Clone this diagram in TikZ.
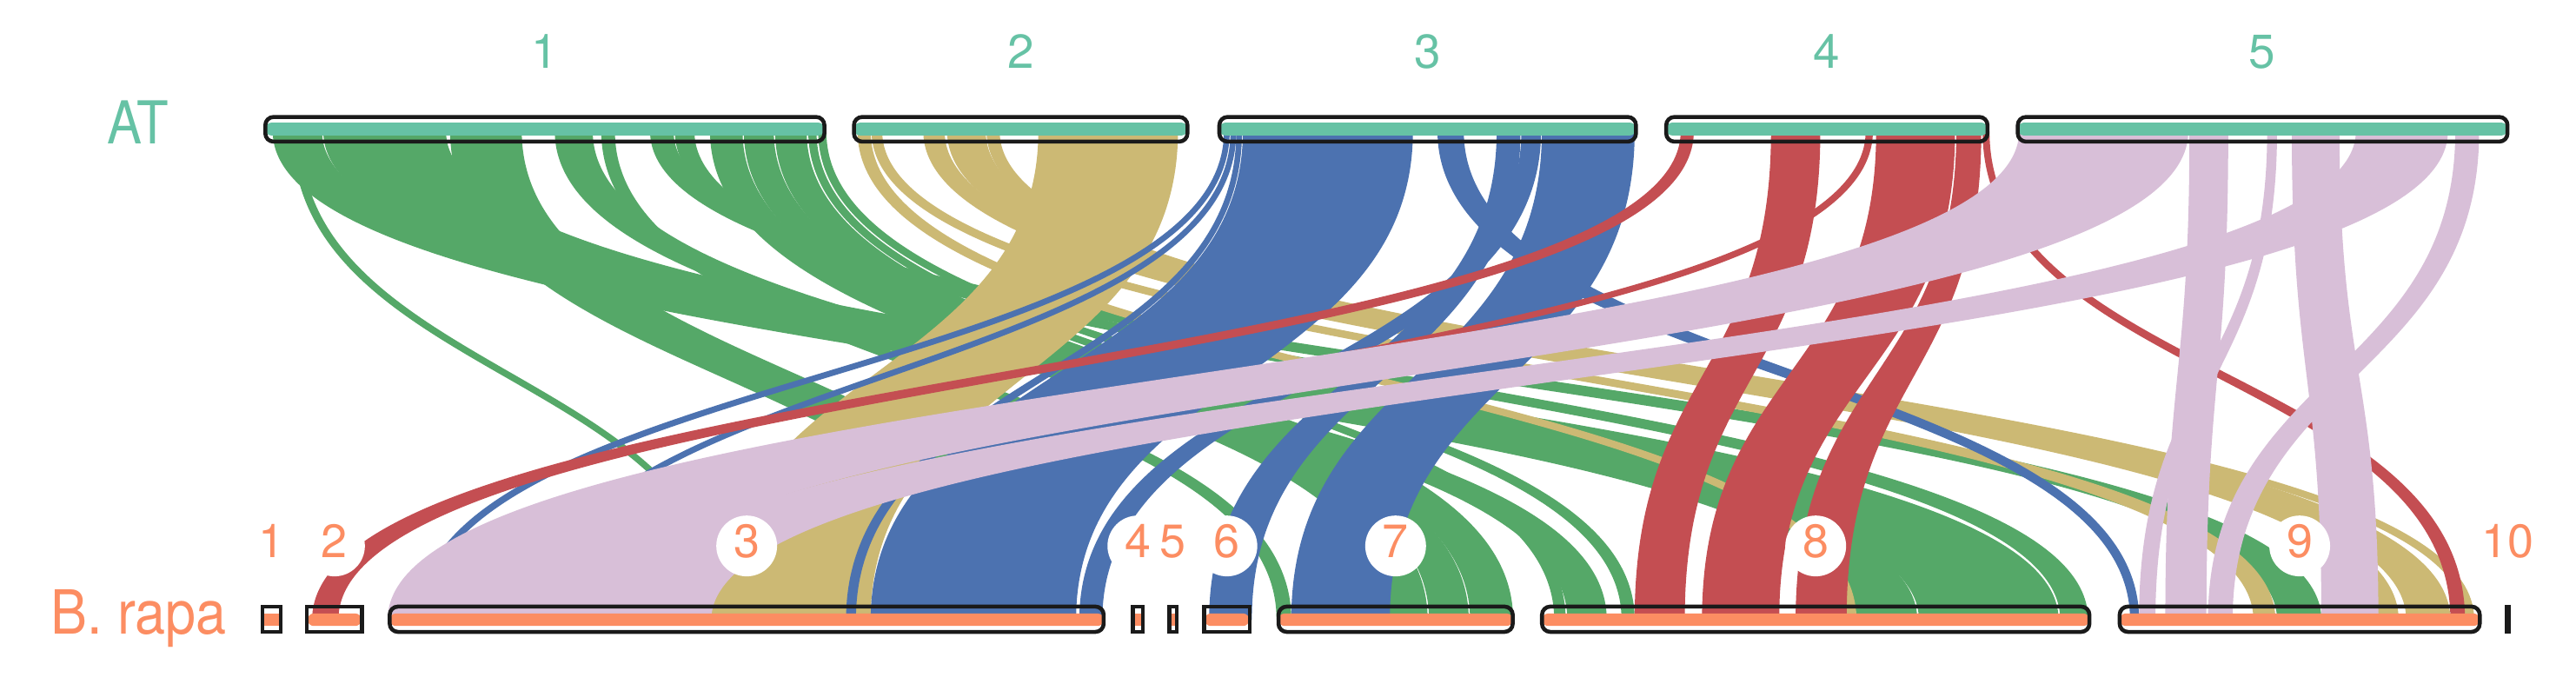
\documentclass[tikz,border=0pt]{standalone}
\usepackage{graphicx}
\usepackage{fontspec}
\setmainfont{TeX Gyre Heros}
\definecolor{cg}{HTML}{55A868}
\definecolor{ck}{HTML}{CCB974}
\definecolor{cb}{HTML}{4C72B0}
\definecolor{cr}{HTML}{C44E52}
\definecolor{cl}{HTML}{D8BFD8}
\definecolor{topc}{HTML}{66C2A5}
\definecolor{botc}{HTML}{FC8D62}
\definecolor{outl}{HTML}{1A1A1A}
% ribbon: colour, top left, top right, bottom left, bottom right (visible extents)
\newcommand\rib[5]{\filldraw[#1, line width=3.5pt, line join=round]
  (#2+1.75,80) .. controls (#2+1.75,228.5) and (#4+1.75,228.5) .. (#4+1.75,377)
  -- (#5-1.75,377) .. controls (#5-1.75,228.5) and (#3-1.75,228.5) .. (#3-1.75,80) -- cycle;}
\newcommand\topchr[2]{%
  \fill[topc, rounded corners=3.9] (#1+1.2,74.6) rectangle (#2-1.2,82.5);
  \draw[outl, line width=2.4, rounded corners=5] (#1+1.2,71.2) rectangle (#2-1.2,86.2);}
\newcommand\botchr[2]{%
  \fill[botc, rounded corners=3.8] (#1+1.2,373.4) rectangle (#2-1.2,381);
  \draw[outl, line width=2.4, rounded corners=5] (#1+1.2,369.2) rectangle (#2-1.2,384.6);}
\newcommand\botsq[2]{%
  \fill[botc] (#1+2.2,373.4) rectangle (#2-2.2,381);
  \draw[outl, line width=2.4] (#1+1.2,369.2) rectangle (#2-1.2,384.6);}
\newcommand\botpill[2]{%
  \fill[botc, rounded corners=3.8] (#1+1.6,373.4) rectangle (#2-1.6,381);
  \draw[outl, line width=2.4] (#1+1.2,369.2) rectangle (#2-1.2,384.6);}
\tikzset{
  toplab/.style={anchor=base, inner sep=0, text=topc, font=\fontsize{29}{29}\selectfont},
  botlab/.style={anchor=base, inner sep=0, text=botc, font=\fontsize{28.5}{28.5}\selectfont},
  labdisc/.style={circle, fill=white, minimum size=37pt, inner sep=0},
}
\begin{document}
\begin{tikzpicture}[x=1pt,y=-1pt]
\useasboundingbox (0,0) rectangle (1568,416);
\fill[white] (0,0) rectangle (1568,416);
% ---- green (AT 1)
\rib{cg}{178}{183}{437}{441}
\rib{cg}{166}{196}{1130}{1167}
\rib{cg}{196.8}{271.5}{1168}{1253}
\rib{cg}{274}{317.6}{605}{650}
\rib{cg}{337.7}{360.8}{954}{978}
\rib{cg}{366}{374.3}{777}{786}
\rib{cg}{395.7}{410}{1386}{1413}
\rib{cg}{410.8}{422.7}{1254}{1271}
\rib{cg}{432.2}{452}{846}{869}
\rib{cg}{452.8}{471}{869.8}{894}
\rib{cg}{471.8}{491}{894.8}{921}
\rib{cg}{492}{497}{946}{953}
\rib{cg}{498}{503}{987}{995}
% ---- khaki (AT 2)
\rib{ck}{522}{530}{1124}{1130}
\rib{ck}{530.5}{537}{1371.6}{1385}
\rib{ck}{562}{575}{1447.7}{1460}
\rib{ck}{576.5}{600}{1464.6}{1491.5}
\rib{ck}{600.5}{608.5}{1500.4}{1506}
\rib{ck}{632}{717}{433}{530}
% ---- blue (AT 3)
\rib{cb}{745}{748.5}{254}{258.5}
\rib{cb}{749}{752.5}{325}{329}
\rib{cb}{752.5}{756}{515}{521}
\rib{cb}{756.5}{860}{530}{655}
\rib{cb}{875}{891}{1296.5}{1302}
\rib{cb}{911}{925.5}{736}{762}
\rib{cb}{926}{938}{657}{671}
\rib{cb}{938.5}{995}{786}{846}
% ---- red (AT 4)
\rib{cr}{1023}{1031}{190}{206}
\rib{cr}{1078}{1108}{995}{1025.5}
\rib{cr}{1135.6}{1140}{370}{375}
\rib{cr}{1142}{1190}{1036}{1083}
\rib{cr}{1190.8}{1206}{1093}{1124}
\rib{cr}{1206.8}{1211}{1491.5}{1500.4}
% ---- lavender (AT 5)
\rib{cl}{1229}{1332}{236}{366}
\rib{cl}{1434}{1490}{362}{433}
\rib{cl}{1332.7}{1356.3}{1318}{1343}
\rib{cl}{1380}{1386}{1302}{1312}
\rib{cl}{1395}{1424}{1413}{1447.7}
\rib{cl}{1494.5}{1509}{1344}{1359}
% ---- AT chromosomes
\topchr{160.3}{503}
\topchr{518.6}{724}
\topchr{741}{997}
\topchr{1013}{1211}
\topchr{1227}{1527.5}
% ---- B. rapa chromosomes
\botsq{158.6}{172}
\botpill{185.6}{221.6}
\botchr{236}{673}
\botsq{688.4}{696.8}
\botsq{710.5}{717.5}
\botpill{731.6}{762}
\botchr{777}{922}
\botchr{937.4}{1273}
\botchr{1289}{1510.6}
\draw[outl, line width=2.4] (1525.8,369.2) rectangle (1527.2,384.6);
% ---- labels
\node[toplab] (t1) at (331.7,41.4) {1};
\node[toplab] (t2) at (621.3,41.4) {2};
\node[toplab] (t3) at (869,41.4) {3};
\node[toplab] (t4) at (1112,41.4) {4};
\node[toplab] (t5) at (1377,41.4) {5};
\node[anchor=base, inner sep=0, text=topc, font=\fontsize{36}{36}\selectfont] (atlab) at (84,87.7) {\scalebox{0.88}[1]{AT}};
\node[anchor=base, inner sep=0, text=botc, font=\fontsize{37}{37}\selectfont] (brlab) at (84.4,386) {\scalebox{0.9}[1]{B. rapa}};
\foreach \n/\cx in {1/165.3, 2/203.6, 3/454.5, 4/692.6, 5/714, 6/746.8, 7/849.5, 8/1105.2, 9/1399.8, 10/1526.5}{
  \node[labdisc] (d\n) at (\cx,332.3) {};
}
\foreach \n/\cx in {1/165.3, 2/203.6, 3/454.5, 4/692.6, 5/714, 6/746.8, 7/849.5, 8/1105.2, 9/1399.8, 10/1526.5}{
  \node[botlab] (b\n) at (\cx,339.5) {\n};
}
\end{tikzpicture}
\end{document}
